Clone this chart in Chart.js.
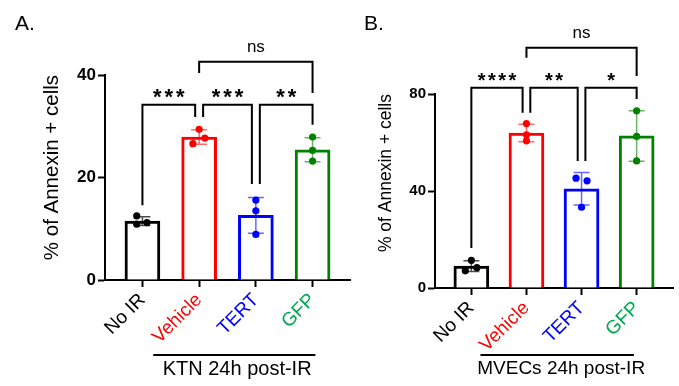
<!DOCTYPE html>
<html>
<head>
<meta charset="utf-8">
<script src="https://cdn.jsdelivr.net/npm/chart.js@4.4.1/dist/chart.umd.min.js"></script>
<style>
  body { margin: 0; background: #fff; }
  canvas { position: absolute; top: 0; }
</style>
</head>
<body>
<canvas id="panelA" width="355" height="386" style="left:0"></canvas>
<canvas id="panelB" width="324" height="386" style="left:355px"></canvas>
<script>
const FONT = 'Arial, "Liberation Sans", Helvetica, sans-serif';

// groups on the x axis
const categories = ['No IR', 'Vehicle', 'TERT', 'GFP'];
const labelColors = ['#000000', '#ff0000', '#0000ff', '#00a84f'];
const barColors = ['#000000', '#ff0000', '#0000ff', '#008200'];
const errColors = ['rgba(0,0,0,0.7)', 'rgba(255,0,0,0.6)', 'rgba(0,0,255,0.6)', 'rgba(0,130,0,0.6)'];

// panel A - KTN
const meanA = [11.5, 27.9, 12.6, 25.4];
const sdA = [0.85, 1.4, 3.5, 2.35];
const repsA = [[12.5, 10.9, 11.2], [29.4, 27.7, 26.6], [15.6, 13.5, 8.9], [27.9, 25.3, 23.2]];
const jitterA = [[-0.1, -0.1, 0.08], [0, 0.1, -0.11], [0, 0, 0], [0, 0, 0]];
const yTicksA = [0, 20, 40];
const sigPairsA = [[0, 1], [1, 2], [2, 3], [1, 3]];
const sigLabelsA = ['***', '***', '**', 'ns'];
const sigTopA = [34.2, 34.2, 34.2, 42.6];
const sigEndsA = [[14.6, 31.8], [31.8, 18.75], [18.75, 30.3], [40.4, 36.5]];

// panel B - MVECs
const meanB = [9.0, 63.9, 40.9, 62.7];
const sdB = [2.2, 3.6, 6.7, 10.4];
const repsB = [[11.4, 7.1, 8.4], [67.8, 63.2, 60.7], [45.3, 44.2, 33.3], [73.1, 62.5, 52.4]];
const jitterB = [[0, -0.11, 0.1], [0, 0, 0], [-0.1, 0.1, 0], [0, 0, 0]];
const yTicksB = [0, 40, 80];
const sigPairsB = [[0, 1], [1, 2], [2, 3], [1, 3]];
const sigLabelsB = ['****', '**', '*', 'ns'];
const sigTopB = [82.6, 82.6, 82.6, 99.1];
const sigEndsB = [[16.5, 72.3], [72.3, 52.4], [52.4, 77.9], [95.0, 87.4]];

// small sideways nudge so neighbouring brackets don't touch
const sigNudge = [[0, -0.07], [0.07, -0.07], [0.07, 0], [0, 0]];

function makePanel(id, p) {
    const ctx = document.getElementById(id).getContext('2d');

    const points = [];
    const pointColors = [];
    p.reps.forEach((r, i) => r.forEach((v, k) => {
        points.push({ x: i + p.jitter[i][k], y: v });
        pointColors.push(barColors[i]);
    }));

    // mean +/- SD whiskers, drawn right after the bars so dots sit on top
    const errorBars = {
        id: 'errorBars',
        afterDatasetDraw(chart, args) {
            if (args.index !== 0) return;
            const { x, y } = chart.scales;
            const c = chart.ctx;
            c.save();
            c.lineWidth = 1.5;
            p.means.forEach((m, i) => {
                const px = x.getPixelForValue(i);
                const top = y.getPixelForValue(m + p.sds[i]);
                const bot = y.getPixelForValue(m - p.sds[i]);
                c.strokeStyle = errColors[i];
                c.beginPath();
                c.moveTo(px, top); c.lineTo(px, bot);
                c.moveTo(px - 8, top); c.lineTo(px + 8, top);
                c.moveTo(px - 8, bot); c.lineTo(px + 8, bot);
                c.stroke();
            });
            c.restore();
        }
    };

    // significance brackets, group caption and panel letter
    const annotations = {
        id: 'annotations',
        afterDraw(chart) {
            const { x, y } = chart.scales;
            const c = chart.ctx;
            c.save();
            c.strokeStyle = '#000';
            c.fillStyle = '#000';
            c.lineWidth = 2;
            p.sigPairs.forEach((pair, k) => {
                const x1 = x.getPixelForValue(pair[0] + sigNudge[k][0]);
                const x2 = x.getPixelForValue(pair[1] + sigNudge[k][1]);
                const yt = y.getPixelForValue(p.sigTop[k]);
                c.beginPath();
                c.moveTo(x1, y.getPixelForValue(p.sigEnds[k][0]));
                c.lineTo(x1, yt);
                c.lineTo(x2, yt);
                c.lineTo(x2, y.getPixelForValue(p.sigEnds[k][1]));
                c.stroke();
                const label = p.sigLabels[k];
                c.textAlign = 'center';
                c.textBaseline = 'alphabetic';
                if (label === 'ns') {
                    c.font = p.nsSize + 'px ' + FONT;
                    c.letterSpacing = '0px';
                    c.fillText(label, (x1 + x2) / 2, yt - 10);
                } else {
                    c.font = 'bold ' + p.starSize + 'px ' + FONT;
                    c.letterSpacing = p.starGap + 'px';
                    c.fillText(label, (x1 + x2) / 2 + p.starGap / 2, yt - 1);
                }
            });
            c.letterSpacing = '0px';

            // caption under the group
            c.lineWidth = 2;
            c.beginPath();
            c.moveTo(x.getPixelForValue(p.capFrom), 355);
            c.lineTo(x.getPixelForValue(p.capTo), 355);
            c.stroke();
            c.font = p.capSize + 'px ' + FONT;
            c.textAlign = 'center';
            c.textBaseline = 'middle';
            c.fillText(p.caption, x.getPixelForValue(p.capMid), 369);

            c.font = '21px ' + FONT;
            c.textAlign = 'left';
            c.textBaseline = 'alphabetic';
            c.fillText(p.letter, p.letterX, 30);
            c.restore();
        }
    };

    return new Chart(ctx, {
        type: 'bar',
        data: {
            datasets: [{
                type: 'bar',
                data: p.means.map((m, i) => ({ x: i, y: m })),
                backgroundColor: '#ffffff',
                borderColor: barColors,
                borderWidth: 3,
                barThickness: 35,
                order: 2
            }, {
                type: 'scatter',
                data: points,
                pointRadius: 3.6,
                pointBorderWidth: 0,
                pointBackgroundColor: pointColors,
                order: 1
            }]
        },
        options: {
            responsive: false,
            animation: false,
            devicePixelRatio: 1,
            layout: { padding: { top: p.top, right: p.right, bottom: 0, left: 0 } },
            plugins: { legend: { display: false }, tooltip: { enabled: false } },
            scales: {
                x: {
                    type: 'linear',
                    min: -0.66,
                    max: 3.66,
                    bounds: 'data',
                    offset: false,
                    afterFit: s => { s.height = p.xHeight; },
                    afterBuildTicks: s => { s.ticks = categories.map((_, i) => ({ value: i })); },
                    grid: { offset: false, drawOnChartArea: false, tickLength: 7, tickWidth: 2, tickColor: '#000' },
                    border: { color: '#000', width: 2 },
                    ticks: {
                        autoSkip: false,
                        maxRotation: 45,
                        minRotation: 45,
                        padding: 2,
                        font: { family: FONT, size: 19 },
                        color: c => labelColors[c.index],
                        callback: v => categories[v]
                    }
                },
                y: {
                    min: 0,
                    max: p.yTicks[p.yTicks.length - 1],
                    afterFit: s => { s.width = p.yWidth; },
                    afterBuildTicks: s => { s.ticks = p.yTicks.map(v => ({ value: v })); },
                    grid: { drawOnChartArea: false, tickLength: 7, tickWidth: 2, tickColor: '#000' },
                    border: { color: '#000', width: 2 },
                    ticks: {
                        padding: 2,
                        color: '#000',
                        font: { family: FONT, size: p.tickSize, weight: 'bold' }
                    },
                    title: {
                        display: true,
                        text: '% of Annexin + cells',
                        align: 'end',
                        color: '#000',
                        font: { family: FONT, size: p.titleSize },
                        padding: { top: p.titlePad, bottom: 0 }
                    }
                }
            }
        },
        plugins: [errorBars, annotations]
    });
}

makePanel('panelA', {
    means: meanA, sds: sdA, reps: repsA, jitter: jitterA, yTicks: yTicksA,
    sigPairs: sigPairsA, sigLabels: sigLabelsA, sigTop: sigTopA, sigEnds: sigEndsA,
    top: 75, right: 5, xHeight: 106, yWidth: 105,
    tickSize: 17, titleSize: 20.5, titlePad: 40,
    starSize: 22, starGap: 3, nsSize: 17,
    caption: 'KTN 24h post-IR', capFrom: 0.19, capTo: 3.05, capMid: 1.67, capSize: 20,
    letter: 'A.', letterX: 15
});

makePanel('panelB', {
    means: meanB, sds: sdB, reps: repsB, jitter: jitterB, yTicks: yTicksB,
    sigPairs: sigPairsB, sigLabels: sigLabelsB, sigTop: sigTopB, sigEnds: sigEndsB,
    top: 94, right: 6, xHeight: 98, yWidth: 80,
    tickSize: 15, titleSize: 17.5, titlePad: 21,
    starSize: 20, starGap: 2.5, nsSize: 17,
    caption: 'MVECs 24h post-IR', capFrom: 0.165, capTo: 2.95, capMid: 1.63, capSize: 19,
    letter: 'B.', letterX: 9
});
</script>
</body>
</html>
